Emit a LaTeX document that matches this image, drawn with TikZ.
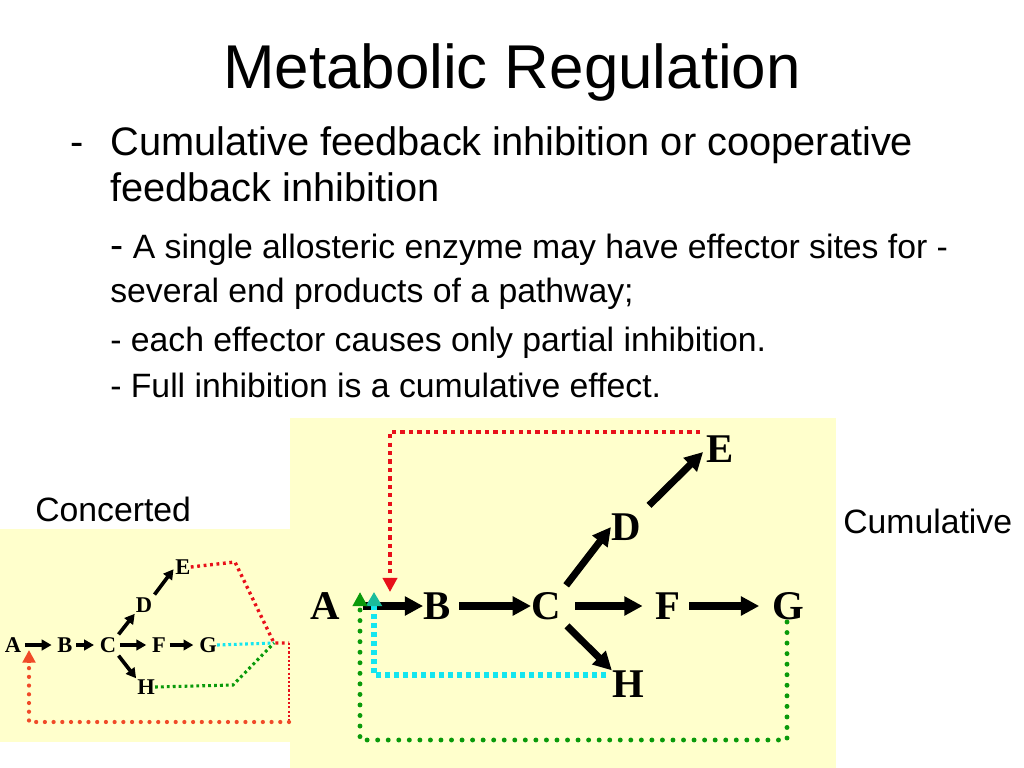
\documentclass[tikz,border=0pt]{standalone}
\usepackage{fontspec}
\setmainfont{Liberation Sans}
\newfontfamily\labelfont{Liberation Serif}
\usetikzlibrary{arrows.meta}
\definecolor{paleyellow}{HTML}{FFFFCC}
\definecolor{fbred}{HTML}{E8101A}
\definecolor{fborange}{HTML}{F04A28}
\definecolor{fbcyan}{HTML}{14E6F0}
\definecolor{fbteal}{HTML}{1ABC9C}
\definecolor{fbgreen}{HTML}{0A9A0A}
\begin{document}
\begin{tikzpicture}[x=0.025cm,y=-0.025cm,
  big/.style={font=\labelfont\bfseries\fontsize{29}{29}\selectfont, inner sep=0pt},
  small/.style={font=\labelfont\bfseries\fontsize{16}{16}\selectfont, inner sep=0pt},
  bigrxn/.style={line width=5pt, -{Triangle[length=13pt,width=13pt]}, shorten <=6pt},
  smallrxn/.style={line width=2.6pt, -{Triangle[length=7pt,width=7.5pt]}, shorten <=2.5pt, shorten >=4pt},
  txt/.style={anchor=base west, inner sep=0pt, font=\fontsize{28.3}{34}\selectfont},
  subtxt/.style={anchor=base west, inner sep=0pt, font=\fontsize{24}{29}\selectfont}]
\fill[white] (0,0) rectangle (1024,768);

% title and text
\node[anchor=base, inner sep=0pt, font=\fontsize{44}{52}\selectfont] (title) at (512,89) {Metabolic Regulation};
\node[txt] (dash1) at (70,155) {-};
\node[txt] (l1) at (110,155) {Cumulative feedback inhibition or cooperative};
\node[txt] (l2) at (110,201) {feedback inhibition};
\node[subtxt] (l3) at (110,258) {{\fontsize{28}{34}\selectfont -} A single allosteric enzyme may have effector sites for -};
\node[subtxt] (l4) at (110,302) {several end products of a pathway;};
\node[subtxt] (l5) at (110,351) {- each effector causes only partial inhibition.};
\node[subtxt] (l6) at (110,397) {- Full inhibition is a cumulative effect.};

% boxes
\fill[paleyellow] (0,529) rectangle (290,742);
\fill[paleyellow] (290,418) rectangle (836,768);
\node[subtxt] (conc) at (35,521) {Concerted};
\node[subtxt] (cumu) at (843,533) {Cumulative};

% concerted
\node[small] (a1) at (13,645) {A};
\node[small] (b1) at (65,645) {B};
\node[small] (c1) at (108,645) {C};
\node[small] (f1) at (159,645) {F};
\node[small] (g1) at (208,645) {G};
\node[small] (d1) at (144,605) {D};
\node[small] (e1) at (183,567) {E};
\node[small] (h1) at (146,687) {H};
\draw[smallrxn] (a1) -- (b1);
\draw[smallrxn] (b1) -- (c1);
\draw[smallrxn] (c1) -- (f1);
\draw[smallrxn] (f1) -- (g1);
\draw[smallrxn, shorten >=1pt] (c1.north east) -- (d1.south west);
\draw[smallrxn, shorten >=2pt] (d1.north east) -- (e1.west);
\draw[smallrxn, shorten >=1pt] (c1.south east) -- (h1.north west);

\coordinate (m1) at (274,643);
\coordinate (m2) at (289,643);
\coordinate (q1) at (289,722);
\coordinate (q2) at (29,722);
\coordinate (t1) at (29,650);
\draw[fbred, line width=2.4pt, dash pattern=on 2pt off 2.6pt] (e1.east) -- (235,562) -- (m1) -- (m2);
\draw[fbred, line width=0.8pt, dash pattern=on 1.5pt off 1.5pt] (m2) -- (q1);
\draw[fborange, line width=3pt, line cap=round, dash pattern=on 0pt off 6.2pt] (q1) -- (q2) -- ([yshift=-8pt]t1);
\draw[fborange, line width=3pt, -{Triangle[length=9pt,width=9pt]}] ([yshift=-9pt]t1) -- (t1);
\draw[fbcyan, line width=2.2pt, dash pattern=on 2pt off 2pt] (g1.east) -- (m1);
\draw[fbgreen, line width=2.2pt, dash pattern=on 2pt off 2.2pt] (h1.east) -- (233,685) -- (m1);

% cumulative
\node[big] (A) at (325,606) {A};
\node[big] (B) at (437,606) {B};
\node[big] (C) at (546,606) {C};
\node[big] (F) at (668,606) {F};
\node[big] (G) at (788,606) {G};
\node[big] (D) at (626,527) {D};
\node[big] (E) at (720,449) {E};
\node[big] (H) at (628,684) {H};
\draw[bigrxn, shorten <=16pt] (A) -- (B);
\draw[bigrxn] (B) -- (C);
\draw[bigrxn, shorten <=10pt, shorten >=9pt] (C) -- (F);
\draw[bigrxn, shorten >=9pt] (F) -- (G);
\draw[bigrxn] (C.north east) -- (D.west);
\draw[bigrxn, shorten <=8pt, shorten >=3pt] (D.north east) -- (E.west);
\draw[bigrxn] (C.south east) -- (H.north west);

\coordinate (rE) at (700,432);
\coordinate (rTip) at (390,592);
\coordinate (cH) at (606,675);
\coordinate (cTip) at (374,592);
\coordinate (gG) at (787,622);
\coordinate (gCorner) at (360,740);
\coordinate (gTip) at (360,592);
\draw[fbred, line width=3pt, dash pattern=on 3pt off 3pt, -{Triangle[length=10pt,width=10pt]}] (rE) -| (rTip);
\draw[fbcyan, line width=3.6pt, dash pattern=on 3.6pt off 2.8pt, -{Triangle[length=10pt,width=11pt,color=fbteal]}] (cH) -| (cTip);
\draw[fbgreen, line width=3.5pt, line cap=round, dash pattern=on 0pt off 7.5pt] (gG) |- (gCorner) -- ([yshift=-9pt]gTip);
\draw[fbgreen, line width=3.5pt, -{Triangle[length=10pt,width=10pt]}] ([yshift=-10pt]gTip) -- (gTip);
\end{tikzpicture}
\end{document}
